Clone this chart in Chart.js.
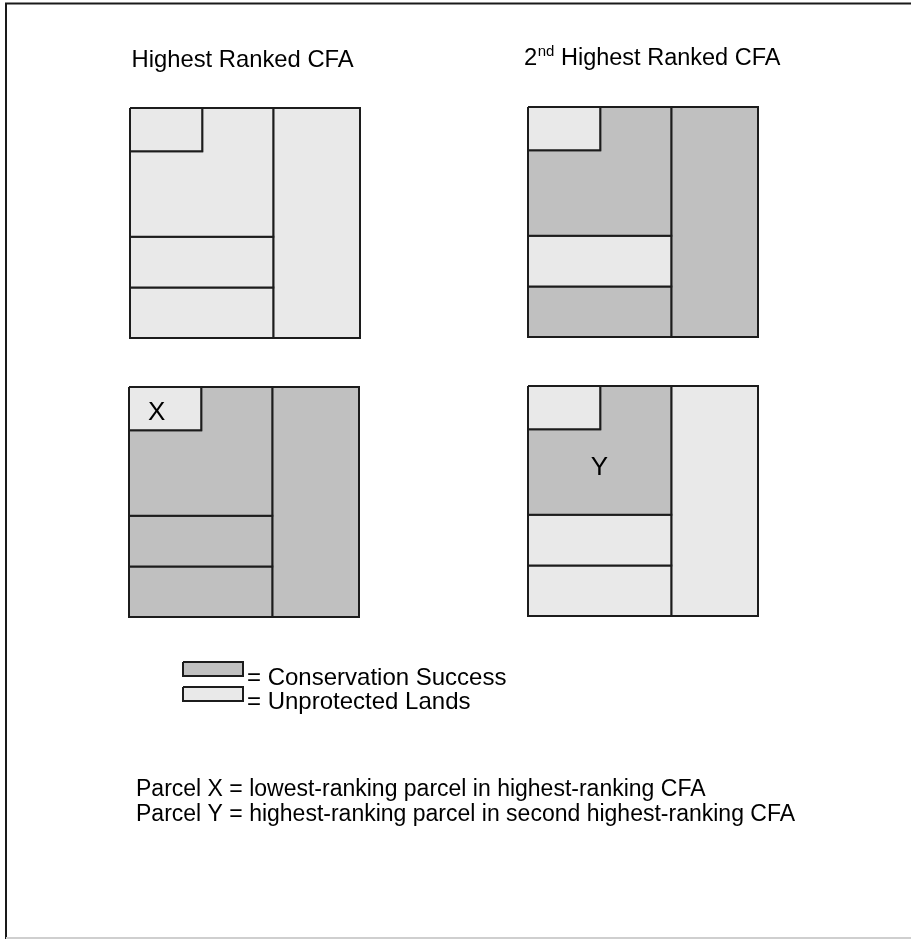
<!DOCTYPE html>
<html>
<head>
<meta charset="utf-8">
<script src="https://cdn.jsdelivr.net/npm/chart.js@4.4.1/dist/chart.umd.min.js"></script>
<style>
  html, body { margin: 0; padding: 0; background: #ffffff; }
  #wrap { position: relative; width: 911px; height: 939px; }
  canvas { display: block; }
</style>
</head>
<body>
<div id="wrap"><canvas id="c" width="911" height="939"></canvas></div>
<script>
// ---------------- DATA ----------------
// Parcel outlines in panel units (0..100 across, 0..100 down)
const parcelNames = ['P1', 'P2', 'P3', 'P4', 'P5'];
const parcelOutlines = [
  [[0, 0], [31.4, 0], [31.4, 18.8], [0, 18.8]],                                   // small corner parcel
  [[31.4, 0], [62.3, 0], [62.3, 56], [0, 56], [0, 18.8], [31.4, 18.8]],           // L-shaped parcel
  [[0, 56], [62.3, 56], [62.3, 78], [0, 78]],                                     // middle strip
  [[0, 78], [62.3, 78], [62.3, 100], [0, 100]],                                   // bottom strip
  [[62.3, 0], [100, 0], [100, 100], [62.3, 100]]                                  // right column
];
// Status per parcel: 'C' = Conservation Success, 'U' = Unprotected Lands
const statusTopLeft     = ['U', 'U', 'U', 'U', 'U'];
const statusTopRight    = ['U', 'C', 'U', 'C', 'C'];
const statusBottomLeft  = ['U', 'C', 'C', 'C', 'C'];
const statusBottomRight = ['U', 'C', 'U', 'U', 'U'];
const parcelTagsBottomLeft  = ['X', '', '', '', ''];
const parcelTagsBottomRight = ['', 'Y', '', '', ''];
const columnTitles = ['Highest Ranked CFA', '2nd Highest Ranked CFA'];
const legendStatus = ['C', 'U'];
const legendLabels = ['= Conservation Success', '= Unprotected Lands'];
const footnotes = [
  'Parcel X = lowest-ranking parcel in highest-ranking CFA',
  'Parcel Y = highest-ranking parcel in second highest-ranking CFA'
];

// ---------------- LAYOUT / STYLE ----------------
const W = 911, H = 939;
const FONT = '"Liberation Sans", Arial, Helvetica, sans-serif';
const statusColor = { C: '#c0c0c0', U: '#e9e9e9' };
const edgeColor = '#1c1c1c';
const panels = [
  { status: statusTopLeft,     tags: null,                  ox: 130, oy: 108, size: 230 },
  { status: statusTopRight,    tags: null,                  ox: 528, oy: 107, size: 230 },
  { status: statusBottomLeft,  tags: parcelTagsBottomLeft,  ox: 129, oy: 387, size: 230 },
  { status: statusBottomRight, tags: parcelTagsBottomRight, ox: 528, oy: 386, size: 230 }
];
const tagAnchor = { P1: [12, 11], P2: [31, 35] };
const legendBox = { x: 183, y: [662, 687], w: 60, h: 14 };

// ---------------- BUILD DATASETS ----------------
function closed(poly, ox, oy, s) {
  const pts = poly.map(([u, v]) => ({ x: ox + u * s / 100, y: oy + v * s / 100 }));
  pts.push({ ...pts[0] });
  return pts;
}
const datasets = [];
panels.forEach((p, pi) => {
  parcelNames.forEach((name, i) => {
    datasets.push({
      label: 'panel' + pi + '-' + name,
      data: closed(parcelOutlines[i], p.ox, p.oy, p.size),
      showLine: true,
      fill: 'shape',
      backgroundColor: statusColor[p.status[i]],
      borderColor: edgeColor,
      borderWidth: 2,
      borderJoinStyle: 'miter',
      pointRadius: 0,
      tension: 0
    });
  });
});
legendStatus.forEach((st, i) => {
  const b = legendBox;
  const poly = [[0, 0], [100, 0], [100, 100], [0, 100]];
  const pts = poly.map(([u, v]) => ({ x: b.x + u * b.w / 100, y: b.y[i] + v * b.h / 100 }));
  pts.push({ ...pts[0] });
  datasets.push({
    label: legendLabels[i],
    data: pts,
    showLine: true,
    fill: 'shape',
    backgroundColor: statusColor[st],
    borderColor: edgeColor,
    borderWidth: 2,
    borderJoinStyle: 'miter',
    pointRadius: 0,
    tension: 0
  });
});

// ---------------- TEXT / FRAME PLUGIN ----------------
const decor = {
  id: 'decor',
  beforeDraw(chart) {
    const ctx = chart.ctx;
    ctx.save();
    ctx.fillStyle = '#ffffff';
    ctx.fillRect(0, 0, W, H);
    ctx.strokeStyle = '#1a1a1a';
    ctx.lineWidth = 2;
    ctx.beginPath();
    ctx.moveTo(6, H); ctx.lineTo(6, 3.5); ctx.lineTo(W, 3.5);
    ctx.stroke();
    ctx.strokeStyle = '#cfcfcf';
    ctx.lineWidth = 2;
    ctx.beginPath();
    ctx.moveTo(6, 938); ctx.lineTo(W, 938);
    ctx.stroke();
    ctx.restore();
  },
  afterDraw(chart) {
    const ctx = chart.ctx;
    ctx.save();
    ctx.fillStyle = '#000000';
    ctx.textAlign = 'left';
    ctx.textBaseline = 'alphabetic';
    ctx.font = '23.8px ' + FONT;
    ctx.fillText(columnTitles[0], 131.5, 67);
    const t2 = columnTitles[1];
    const m = /^(\d+)(st|nd|rd|th)(.*)$/.exec(t2);
    let x = 524;
    ctx.fillText(m[1], x, 65); x += ctx.measureText(m[1]).width;
    ctx.font = '15px ' + FONT;
    ctx.fillText(m[2], x + 0.5, 56); x += ctx.measureText(m[2]).width + 0.5;
    ctx.font = '23.5px ' + FONT;
    ctx.fillText(m[3], x, 65);
    ctx.font = '26px ' + FONT;
    ctx.textAlign = 'center';
    ctx.textBaseline = 'middle';
    panels.forEach(p => {
      if (!p.tags) return;
      p.tags.forEach((t, i) => {
        if (!t) return;
        const a = tagAnchor[parcelNames[i]];
        ctx.fillText(t, p.ox + a[0] * p.size / 100, p.oy + a[1] * p.size / 100 + 1);
      });
    });
    ctx.textAlign = 'left';
    ctx.textBaseline = 'alphabetic';
    ctx.font = '24px ' + FONT;
    ctx.fillText(legendLabels[0], 247, 684.5);
    ctx.fillText(legendLabels[1], 247, 709);
    ctx.font = '23px ' + FONT;
    ctx.fillText(footnotes[0], 136, 796);
    ctx.fillText(footnotes[1], 136, 821);
    ctx.restore();
  }
};

new Chart(document.getElementById('c'), {
  type: 'scatter',
  data: { datasets },
  options: {
    responsive: false,
    animation: false,
    events: [],
    layout: { padding: 0 },
    plugins: { legend: { display: false }, tooltip: { enabled: false }, title: { display: false } },
    scales: {
      x: { type: 'linear', min: 0, max: W, display: false },
      y: { type: 'linear', min: 0, max: H, reverse: true, display: false }
    }
  },
  plugins: [decor]
});
</script>
</body>
</html>
